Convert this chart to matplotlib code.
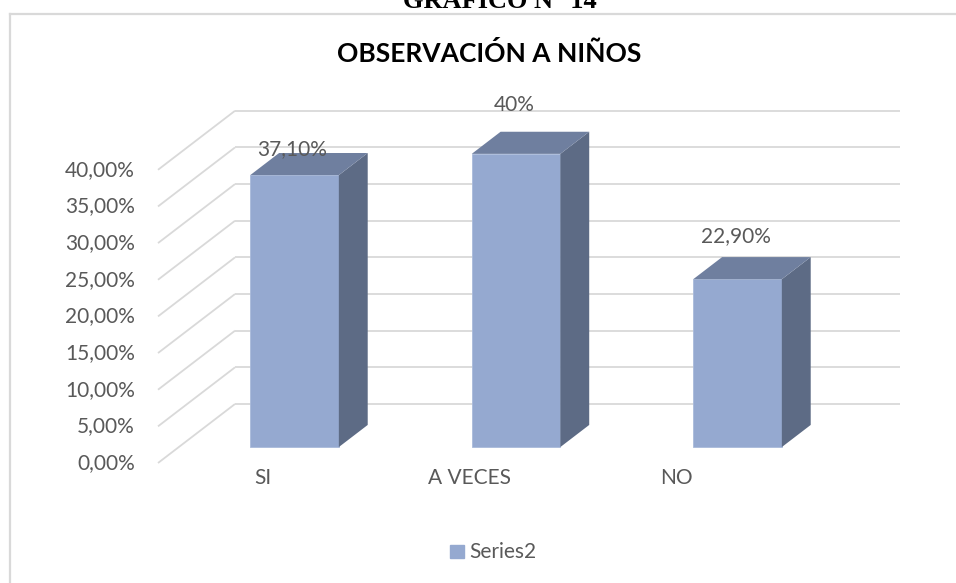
import matplotlib.pyplot as plt
from matplotlib.lines import Line2D
from matplotlib.patches import Rectangle

categories = ['SI', 'A VECES', 'NO']
values = [37.1, 40.0, 22.9]
value_labels = ['37,10%', '40%', '22,90%']
ticks = [0, 5, 10, 15, 20, 25, 30, 35, 40]
tick_labels = ['0,00%', '5,00%', '10,00%', '15,00%', '20,00%',
               '25,00%', '30,00%', '35,00%', '40,00%']
series_name = 'Series2'

plt.rcParams['font.family'] = ['Lato', 'DejaVu Sans']

W, H = 956, 583
fig = plt.figure(figsize=(W / 100, H / 100), dpi=100)
ax = fig.add_axes([0, 0, 1, 1])
ax.set_axis_off()

# pixel scales of the front plane
px_cat = 221.5        # px per category
px_val = 7.33         # px per 1 %
x0_px, y0_px = 158, H - 463   # front plane origin (x=-0.5, 0 %)
ax.set_xlim(-0.5 - x0_px / px_cat, -0.5 + (W - x0_px) / px_cat)
ax.set_ylim(-y0_px / px_val, (H - y0_px) / px_val)

# depth vector of the 3d box
DX = 77 / px_cat
DY = 59 / px_val
f0, f1 = 0.27, 0.645   # bar depth span
bw = 0.4
shift = 5 / px_cat

grid_c = '#D9D9D9'
txt_c = '#595959'
xl, xr = -0.5, len(categories) - 0.5

for t in ticks:
    ax.plot([xl, xl + DX], [t, t + DY], color=grid_c, lw=1.3, zorder=1,
            solid_capstyle='butt')
    ax.plot([xl + DX, xr + DX], [t + DY, t + DY], color=grid_c, lw=1.3,
            zorder=1, solid_capstyle='butt')

for t, lab in zip(ticks, tick_labels):
    ax.text(-0.605, t, lab, ha='right', va='center', fontsize=15,
            color=txt_c)

front_c = '#95A9D0'
side_c = '#5D6B85'
top_c = '#6F7F9F'
for i, v in enumerate(values):
    xc = i + f0 * DX + shift
    xa, xb = xc - bw / 2, xc + bw / 2
    yb = f0 * DY
    d = (f1 - f0)
    ax.bar(xc, v, width=bw, bottom=yb, color=front_c,
           edgecolor='#A9BADB', linewidth=0.6, zorder=3)
    ax.fill([xb, xb + d * DX, xb + d * DX, xb],
            [yb, yb + d * DY, yb + v + d * DY, yb + v],
            color=side_c, zorder=3, lw=0)
    ax.fill([xa, xa + d * DX, xb + d * DX, xb],
            [yb + v, yb + v + d * DY, yb + v + d * DY, yb + v],
            color=top_c, zorder=3, lw=0)

# data labels
label_dy = [0.5, 3.6, 2.9]
for i, (v, lab) in enumerate(zip(values, value_labels)):
    ax.text(i + f0 * DX + shift - 2 / px_cat, v + f1 * DY + label_dy[i], lab,
            ha='center', va='center', fontsize=15, color=txt_c, zorder=5)

# category labels
cat_x = [-0.025, 0.905, 1.84]
for xc, c in zip(cat_x, categories):
    ax.text(xc, -2.05, c, ha='center', va='center', fontsize=15, color=txt_c)

# title
fig.text(489 / W, 1 - 53 / H, 'OBSERVACIÓN A NIÑOS', ha='center',
         va='center', fontsize=19, fontweight='bold', color='black')

# caption above the chart frame (cut off in the original)
fig.text(500 / W, 1 - 8 / H, 'GRÁFICO N° 14', ha='center', va='baseline',
         fontsize=19, fontweight='bold', family='Liberation Serif',
         color='black')

# legend
fig.add_artist(Rectangle((450 / W, 1 - 558 / H), 14 / W, 13 / H,
                         transform=fig.transFigure, color=front_c))
fig.text(469 / W, 1 - 552 / H, series_name, ha='left', va='center',
         fontsize=15, color=txt_c)

# chart frame
fig.add_artist(Line2D([10 / W, 10 / W], [0, 1 - 14 / H],
                      transform=fig.transFigure, color=grid_c, lw=1.6))
fig.add_artist(Line2D([10 / W, 1], [1 - 14 / H, 1 - 14 / H],
                      transform=fig.transFigure, color=grid_c, lw=1.6))

fig.savefig('out.png', dpi=100, facecolor='white')
